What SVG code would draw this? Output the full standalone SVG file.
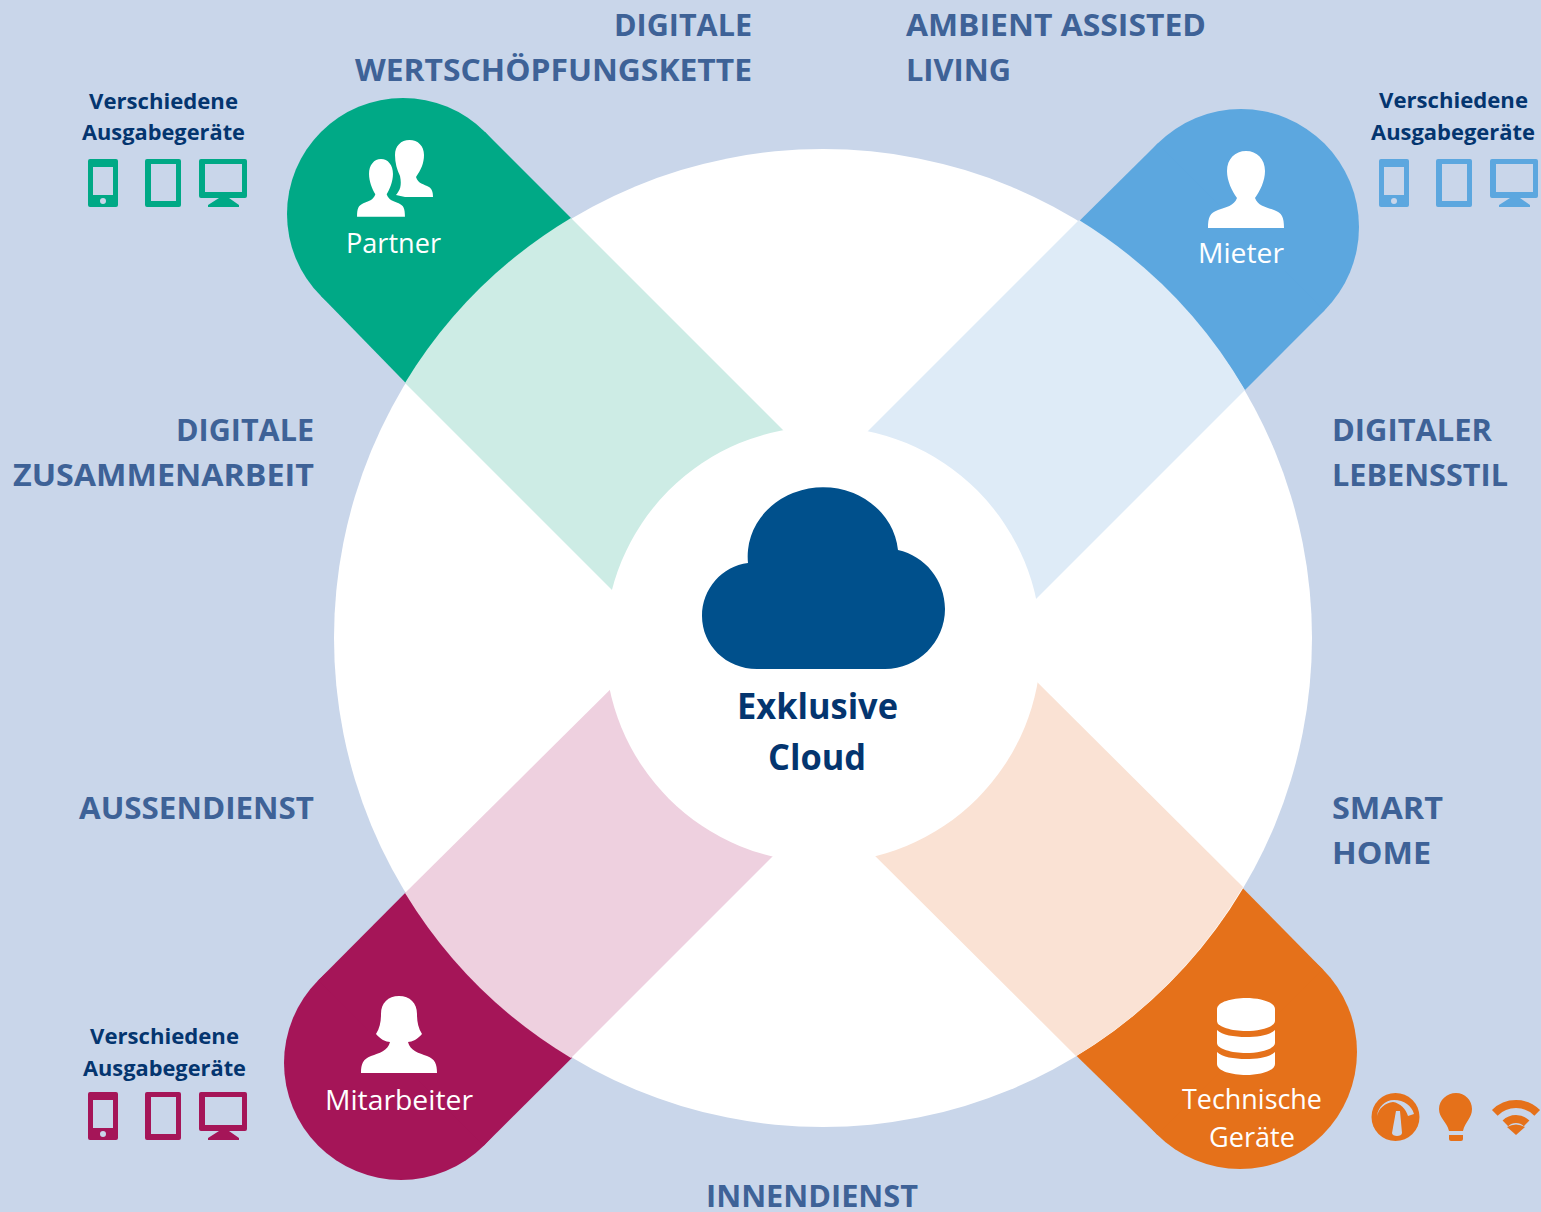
<svg xmlns="http://www.w3.org/2000/svg" xmlns:xlink="http://www.w3.org/1999/xlink" width="1541" height="1212" viewBox="0 0 1541 1212">
<style>
text{font-family:"Open Sans","Noto Sans","Liberation Sans",sans-serif}
.h{font-size:31px;font-weight:700;fill:#3e6297}
.d{font-size:21px;font-weight:700;fill:#04356f}
.w{font-size:27.500px;fill:#fff}
.c{font-size:36px;font-weight:700;fill:#04356f}
.green{color:#00a986;fill:#00a986}.blue{color:#5ca7df;fill:#5ca7df}.red{color:#a51558;fill:#a51558}.orange{color:#e5711a;fill:#e5711a}
.ic{fill:#fff}
</style>
<defs>
<g id="devices" fill="currentColor" fill-rule="evenodd">
<path d="M90,159H116a2,2 0 0 1 2,2V205a2,2 0 0 1 -2,2H90a2,2 0 0 1 -2,-2V161a2,2 0 0 1 2,-2ZM93,167V195H113V167ZM100,201a3,3 0 1 0 6,0a3,3 0 1 0 -6,0Z"/>
<path d="M147,159H179a2,2 0 0 1 2,2V205a2,2 0 0 1 -2,2H147a2,2 0 0 1 -2,-2V161a2,2 0 0 1 2,-2ZM151,164V201H176V164Z"/>
<path d="M201,159H245a2,2 0 0 1 2,2V196a2,2 0 0 1 -2,2H229L239,205V207H208V205L219,198H201a2,2 0 0 1 -2,-2V161a2,2 0 0 1 2,-2ZM205,164V192H242V164Z"/>
</g>
<path id="man" d="M-38,77C-38,66 -36,62 -28,59C-20,56 -12,55 -9,47C-14,40 -19,30 -19,20C-19,8 -11,0 0,0C11,0 19,8 19,20C19,30 14,40 9,47C12,55 20,56 28,59C36,62 38,66 38,77Z"/>
</defs>
<rect id="background" width="1541" height="1212" fill="#c9d6ea"/>

<g id="node-partner" class="green">
<circle cx="403" cy="214" r="116"/>
<path d="M485,132L600,247L434,412L321,296Z"/>
<path class="ic" d="M396,195C400,190 402,186 400,176C397,170 395,163 395,155C395,146 401,140 409.500,140C418,140 424,146 424,155C424,163 421,170 416,177C418,184 424,184 429,187C432,189 433,192 433,197H405Z"/>
<use xlink:href="#man" href="#man" class="ic" transform="translate(381,159) scale(.63,.75)" stroke="#00a986" stroke-width="3" paint-order="stroke"/>
<text class="w" x="346" y="253" textLength="95" lengthAdjust="spacingAndGlyphs">Partner</text>
</g>
<g id="node-mieter" class="blue">
<circle cx="1241" cy="227" r="118"/>
<path d="M1157.600,143.600L1050,250L1215,420L1324.400,310.400Z"/>
<use xlink:href="#man" href="#man" class="ic" transform="translate(1246,151)"/>
<text class="w" x="1198" y="263" textLength="86" lengthAdjust="spacingAndGlyphs">Mieter</text>
</g>
<g id="node-mitarbeiter" class="red">
<circle cx="401" cy="1063" r="117"/>
<path d="M318.300,980.300L430,868L600,1030L483.700,1145.700Z"/>
<path class="ic" d="M361,1073C361,1064 363,1059 371,1056C379,1053 388,1051 390,1042C386,1042 380,1039 376,1034C380,1028 381,1021 381,1014C381,1003 388,996 399,996C410,996 417,1003 417,1014C417,1021 418,1028 422,1034C418,1039 412,1042 408,1042C410,1051 419,1053 427,1056C435,1059 437,1064 437,1073Z"/>
<text class="w" x="325" y="1110" textLength="148" lengthAdjust="spacingAndGlyphs">Mitarbeiter</text>
</g>
<g id="node-technik" class="orange">
<circle cx="1240" cy="1052" r="117"/>
<path d="M1322.700,969.300L1215,860L1050,1030L1157.300,1134.700Z"/>
<path class="ic" d="M1217,1009C1217,1002 1232,998 1246,998C1260,998 1275,1002 1275,1009V1021C1275,1027 1260,1031 1246,1031C1232,1031 1217,1027 1217,1021Z"/>
<path class="ic" d="M1217,1030C1222,1035 1234,1037 1246,1037C1258,1037 1270,1035 1275,1030V1043C1275,1049 1260,1053 1246,1053C1232,1053 1217,1049 1217,1043Z"/>
<path class="ic" d="M1217,1052C1222,1057 1234,1059 1246,1059C1258,1059 1270,1057 1275,1052V1064C1275,1071 1260,1075 1246,1075C1232,1075 1217,1071 1217,1064Z"/>
<text class="w" x="1182" y="1109" textLength="140" lengthAdjust="spacingAndGlyphs">Technische</text>
<text class="w" x="1209" y="1147" textLength="86" lengthAdjust="spacingAndGlyphs">Geräte</text>
</g>

<circle id="ring" cx="823" cy="638" r="489" fill="#fff"/>

<g id="connectors">
<path fill="#cdece5" d="M571,218A489,489 0 0 0 405,383L640,618L810,457Z"/>
<path fill="#deebf7" d="M1079,220A489,489 0 0 1 1245,390L1010,625L840,459Z"/>
<path fill="#eed0df" d="M405,893A489,489 0 0 0 571,1058L800,829L640,660Z"/>
<path fill="#fae2d4" d="M1243,887A489,489 0 0 1 1076,1056L850,831L1010,655Z"/>
</g>

<g id="node-cloud">
<circle cx="823" cy="644.500" r="218" fill="#fff"/>
<path fill="#00508c" d="M757,669C726,669 702,645 702,616C702,589 722,566 748,563A75,69 0 0 1 898,550C925,556 945,580 945,609C945,642 918,669 885,669Z"/>
<text class="c" x="737" y="719" textLength="161" lengthAdjust="spacingAndGlyphs">Exklusive</text>
<text class="c" x="768" y="770" textLength="98" lengthAdjust="spacingAndGlyphs">Cloud</text>
</g>

<g id="label-digitale-wertschoepfung">
<text class="h" x="614" y="36" textLength="138" lengthAdjust="spacingAndGlyphs">DIGITALE</text>
<text class="h" x="355" y="81" textLength="397" lengthAdjust="spacingAndGlyphs">WERTSCHÖPFUNGSKETTE</text>
</g>
<g id="label-aal">
<text class="h" x="906" y="36" textLength="300" lengthAdjust="spacingAndGlyphs">AMBIENT ASSISTED</text>
<text class="h" x="906" y="81" textLength="105" lengthAdjust="spacingAndGlyphs">LIVING</text>
</g>
<g id="label-zusammenarbeit">
<text class="h" x="176" y="441" textLength="138" lengthAdjust="spacingAndGlyphs">DIGITALE</text>
<text class="h" x="13" y="486" textLength="301" lengthAdjust="spacingAndGlyphs">ZUSAMMENARBEIT</text>
</g>
<g id="label-lebensstil">
<text class="h" x="1332" y="441" textLength="160" lengthAdjust="spacingAndGlyphs">DIGITALER</text>
<text class="h" x="1332" y="486" textLength="176" lengthAdjust="spacingAndGlyphs">LEBENSSTIL</text>
</g>
<g id="label-aussendienst"><text class="h" x="79" y="819" textLength="235" lengthAdjust="spacingAndGlyphs">AUSSENDIENST</text></g>
<g id="label-smarthome">
<text class="h" x="1332" y="819" textLength="111" lengthAdjust="spacingAndGlyphs">SMART</text>
<text class="h" x="1332" y="864" textLength="99" lengthAdjust="spacingAndGlyphs">HOME</text>
</g>
<g id="label-innendienst"><text class="h" x="706" y="1207" textLength="212" lengthAdjust="spacingAndGlyphs">INNENDIENST</text></g>

<g id="devices-partner" class="green">
<text class="d" x="89" y="109" textLength="149" lengthAdjust="spacingAndGlyphs">Verschiedene</text>
<text class="d" x="82" y="140" textLength="163" lengthAdjust="spacingAndGlyphs">Ausgabegeräte</text>
<use xlink:href="#devices" href="#devices"/>
</g>
<g id="devices-mieter" class="blue">
<text class="d" x="1379" y="108" textLength="149" lengthAdjust="spacingAndGlyphs">Verschiedene</text>
<text class="d" x="1371" y="140" textLength="164" lengthAdjust="spacingAndGlyphs">Ausgabegeräte</text>
<use xlink:href="#devices" href="#devices" transform="translate(1291,0)"/>
</g>
<g id="devices-mitarbeiter" class="red">
<text class="d" x="90" y="1044" textLength="149" lengthAdjust="spacingAndGlyphs">Verschiedene</text>
<text class="d" x="83" y="1076" textLength="163" lengthAdjust="spacingAndGlyphs">Ausgabegeräte</text>
<use xlink:href="#devices" href="#devices" transform="translate(0,933)"/>
</g>
<g id="devices-technik" class="orange">
<circle cx="1395.500" cy="1117" r="24"/>
<path fill="#c9d6ea" d="M1377,1116C1378,1107 1385,1100 1394,1100C1404,1100 1412,1106 1414,1114L1408,1116C1406,1109 1400,1103 1393,1102C1385,1103 1379,1108 1377,1116Z"/>
<path fill="#c9d6ea" d="M1396,1111H1400L1402,1133C1402,1137 1392,1137 1392,1133Z"/>
<path d="M1456,1093C1465,1093 1472,1100 1472,1109C1472,1118 1465,1122 1463,1131H1449C1447,1122 1439,1118 1439,1109C1439,1100 1447,1093 1456,1093Z"/>
<path d="M1449,1135H1463V1139Q1463,1141 1461,1141H1451Q1449,1141 1449,1139Z"/>
<path fill="none" stroke="currentColor" stroke-width="8" d="M1494.800,1112.800A30,30 0 0 1 1537.200,1112.800"/>
<path fill="none" stroke="currentColor" stroke-width="8" d="M1505.400,1123.400A15,15 0 0 1 1526.600,1123.400"/>
<path d="M1516,1135L1507,1127Q1516,1122 1525,1127Z"/>
</g>
</svg>
